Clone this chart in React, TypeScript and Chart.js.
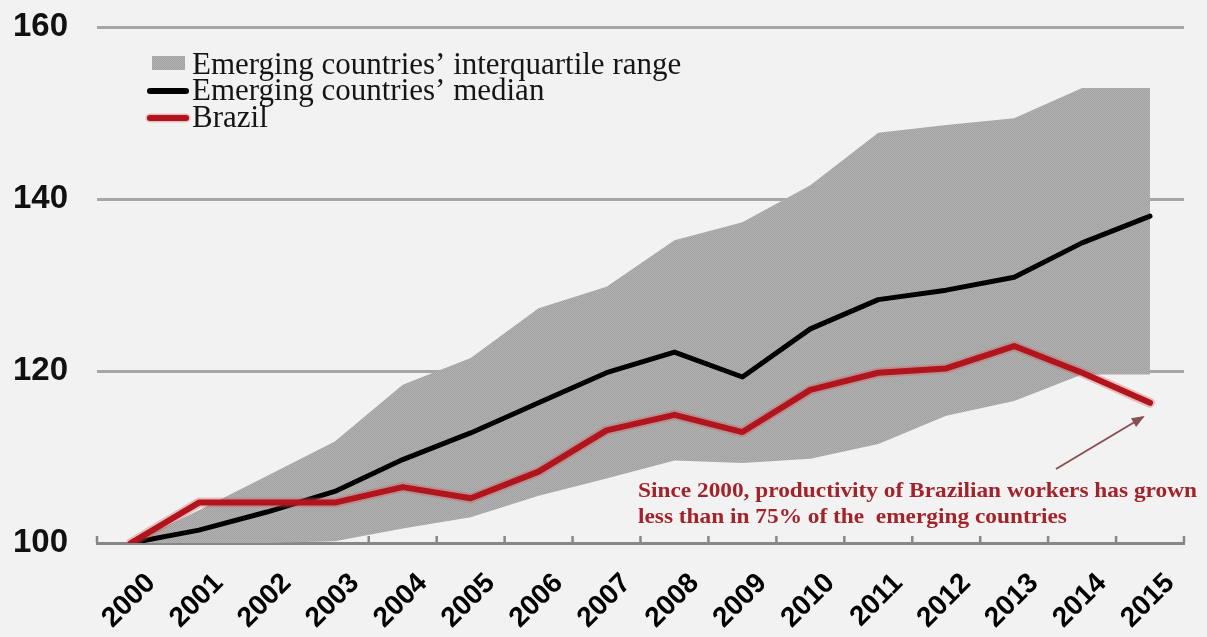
import React, { useEffect, useRef } from "react";
import { Chart, registerables } from "chart.js";

Chart.register(...registerables);

const years = ["2000", "2001", "2002", "2003", "2004", "2005", "2006", "2007", "2008", "2009", "2010", "2011", "2012", "2013", "2014", "2015"];
const median = [100, 101.5, 103.6, 106.0, 109.7, 112.8, 116.3, 119.8, 122.2, 119.3, 124.9, 128.3, 129.4, 130.9, 134.9, 138.0];
const brazil = [100, 104.7, 104.7, 104.7, 106.5, 105.2, 108.3, 113.1, 114.9, 112.9, 117.8, 119.8, 120.3, 122.9, 119.8, 116.3];
const iqrUpper = [100, 103.8, 107.8, 111.8, 118.4, 121.5, 127.3, 129.8, 135.2, 137.3, 141.6, 147.7, 148.6, 149.4, 152.9, 152.9];
const iqrLower = [100, 100, 100, 100.2, 101.7, 103.0, 105.5, 107.5, 109.6, 109.3, 109.8, 111.5, 114.8, 116.5, 119.6, 119.6];
const legendLabels = ["Emerging countries\u2019 interquartile range", "Emerging countries\u2019 median", "Brazil"];
const noteLines = ["Since 2000, productivity of Brazilian workers has grown", "less than in 75% of the  emerging countries"];

const RED = "#b0141c";
const NOTE_RED = "#a3232a";

function makePattern(): CanvasPattern | string {
  const c = document.createElement("canvas");
  c.width = 2;
  c.height = 2;
  const g = c.getContext("2d");
  if (!g) return "#ababab";
  g.fillStyle = "#b3b3b3";
  g.fillRect(0, 0, 2, 2);
  g.fillStyle = "#a0a0a0";
  g.fillRect(0, 0, 1, 1);
  g.fillRect(1, 1, 1, 1);
  const p = g.createPattern(c, "repeat");
  return p || "#ababab";
}

export default function App() {
  const ref = useRef<HTMLCanvasElement | null>(null);

  useEffect(() => {
    const canvas = ref.current;
    if (!canvas) return;
    const pattern = makePattern();

    const axisTicks = {
      id: "axisTicks",
      beforeDatasetsDraw(chart: any) {
        const ctx = chart.ctx;
        const x = chart.scales.x;
        const area = chart.chartArea;
        const n = years.length;
        const w = x.getPixelForValue(1) - x.getPixelForValue(0);
        ctx.save();
        ctx.strokeStyle = "#878787";
        ctx.lineWidth = 2.5;
        for (let i = 0; i <= n; i++) {
          const px = x.getPixelForValue(0) - w / 2 + i * w;
          ctx.beginPath();
          ctx.moveTo(px, area.bottom);
          ctx.lineTo(px, area.bottom - 7);
          ctx.stroke();
        }
        ctx.restore();
      },
    };

    const overlay = {
      id: "overlay",
      afterDatasetsDraw(chart: any) {
        const ctx = chart.ctx;
        ctx.save();
        // legend
        ctx.fillStyle = pattern as any;
        ctx.fillRect(152, 56, 33, 14);
        ctx.lineCap = "round";
        ctx.lineWidth = 6;
        ctx.strokeStyle = "#000";
        ctx.beginPath();
        ctx.moveTo(150, 91);
        ctx.lineTo(186, 91);
        ctx.stroke();
        ctx.strokeStyle = "rgba(214,90,90,0.35)";
        ctx.lineWidth = 9;
        ctx.beginPath();
        ctx.moveTo(150, 118);
        ctx.lineTo(186, 118);
        ctx.stroke();
        ctx.strokeStyle = RED;
        ctx.lineWidth = 6;
        ctx.beginPath();
        ctx.moveTo(150, 118);
        ctx.lineTo(186, 118);
        ctx.stroke();

        ctx.fillStyle = "#151515";
        ctx.font = "31px 'Liberation Serif', 'Times New Roman', serif";
        ctx.textBaseline = "alphabetic";
        ctx.textAlign = "left";
        const baselines = [74, 100, 127];
        legendLabels.forEach((t, i) => ctx.fillText(t, 192, baselines[i]));

        // annotation
        ctx.font = "bold 22px 'Liberation Serif', 'Times New Roman', serif";
        ctx.fillStyle = NOTE_RED;
        const w0 = ctx.measureText(noteLines[0]).width;
        const sx = 559 / w0;
        const noteBase = [497, 523];
        noteLines.forEach((t, i) => {
          ctx.save();
          ctx.translate(638, noteBase[i]);
          ctx.scale(sx, 1);
          ctx.fillText(t, 0, 0);
          ctx.restore();
        });

        // arrow
        const x0 = 1056, y0 = 469, x1 = 1143, y1 = 417;
        ctx.strokeStyle = "#8a4f52";
        ctx.fillStyle = "#8a4f52";
        ctx.lineWidth = 2;
        ctx.lineCap = "butt";
        ctx.beginPath();
        ctx.moveTo(x0, y0);
        ctx.lineTo(x1, y1);
        ctx.stroke();
        const ang = Math.atan2(y1 - y0, x1 - x0);
        const L = 11, hw = 5;
        ctx.beginPath();
        ctx.moveTo(x1 + 2 * Math.cos(ang), y1 + 2 * Math.sin(ang));
        ctx.lineTo(x1 - L * Math.cos(ang) + hw * Math.sin(ang), y1 - L * Math.sin(ang) - hw * Math.cos(ang));
        ctx.lineTo(x1 - L * Math.cos(ang) - hw * Math.sin(ang), y1 - L * Math.sin(ang) + hw * Math.cos(ang));
        ctx.closePath();
        ctx.fill();
        ctx.restore();
      },
    };

    const chart = new Chart(canvas, {
      type: "line",
      data: {
        labels: years,
        datasets: [
          {
            label: "lower",
            data: iqrLower,
            borderWidth: 0,
            pointRadius: 0,
            fill: false,
            order: 5,
          },
          {
            label: legendLabels[0],
            data: iqrUpper,
            borderWidth: 0,
            pointRadius: 0,
            backgroundColor: pattern as any,
            fill: "-1",
            order: 4,
          },
          {
            label: legendLabels[1],
            data: median,
            borderColor: "#000",
            borderWidth: 5,
            pointRadius: 0,
            borderJoinStyle: "round",
            borderCapStyle: "round",
            fill: false,
            order: 3,
          },
          {
            label: "Brazil halo",
            data: brazil,
            borderColor: "rgba(214,90,90,0.35)",
            borderWidth: 10,
            pointRadius: 0,
            borderJoinStyle: "round",
            borderCapStyle: "round",
            fill: false,
            order: 2,
          },
          {
            label: legendLabels[2],
            data: brazil,
            borderColor: RED,
            borderWidth: 6,
            pointRadius: 0,
            borderJoinStyle: "round",
            borderCapStyle: "round",
            fill: false,
            order: 1,
          },
        ],
      },
      options: {
        responsive: false,
        animation: false,
        events: [],
        layout: { padding: { top: 27, right: 23, left: 0, bottom: 0 } },
        plugins: {
          legend: { display: false },
          tooltip: { enabled: false },
          title: { display: false },
        },
        scales: {
          x: {
            type: "category",
            offset: true,
            grid: { display: false, drawTicks: false },
            border: { display: true, color: "#878787", width: 3 },
            ticks: {
              autoSkip: false,
              minRotation: 45,
              maxRotation: 45,
              labelOffset: 20,
              padding: 24,
              color: "#000",
              font: { family: "'Liberation Sans', Arial, sans-serif", size: 28, weight: "bold" },
            },
            afterFit(s: any) {
              s.height = 94;
              s.paddingTop = 0;
              s.paddingBottom = 0;
            },
          },
          y: {
            min: 100,
            max: 160,
            ticks: {
              stepSize: 20,
              padding: 29,
              color: "#111",
              font: { family: "'Liberation Sans', Arial, sans-serif", size: 33, weight: "bold" },
            },
            grid: { color: "#a6a6a6", lineWidth: 3, drawTicks: false },
            border: { display: false },
            afterFit(s: any) {
              s.width = 97;
              s.paddingTop = 0;
              s.paddingBottom = 0;
            },
          },
        },
      },
      plugins: [axisTicks, overlay],
    });

    return () => chart.destroy();
  }, []);

  return (
    <div style={{ position: "fixed", left: 0, top: 0, width: 1207, height: 637, background: "#f2f2f2" }}>
      <canvas ref={ref} width={1207} height={637} style={{ display: "block", width: 1207, height: 637 }} />
    </div>
  );
}
